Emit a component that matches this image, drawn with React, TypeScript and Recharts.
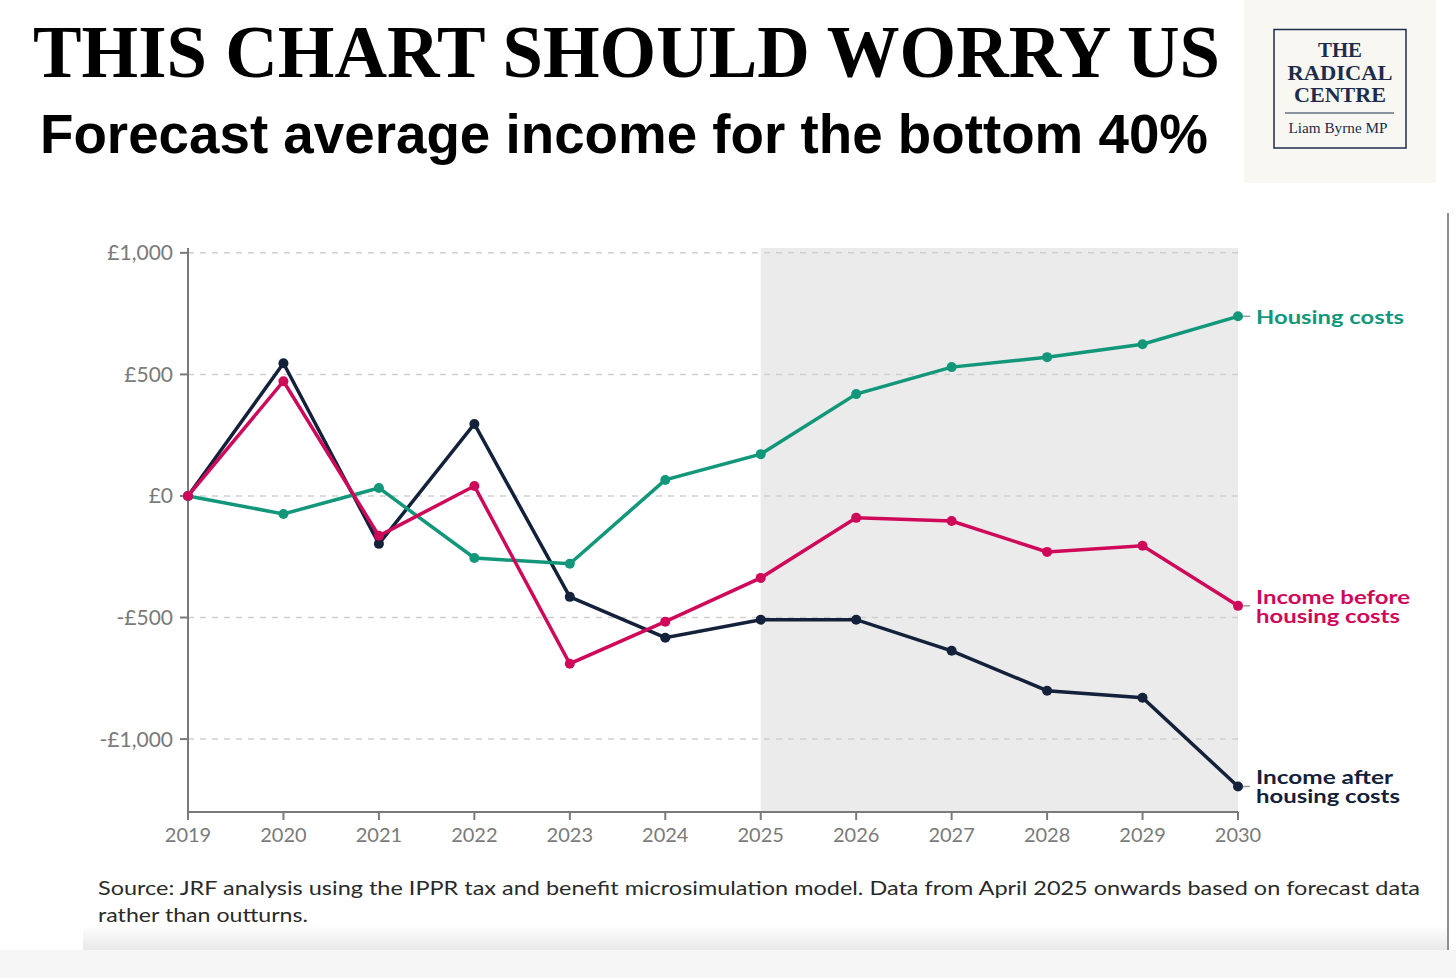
import React from 'react';
import {
  LineChart,
  Line,
  XAxis,
  YAxis,
  ReferenceArea,
  ReferenceLine,
} from 'recharts';

const years = [2019, 2020, 2021, 2022, 2023, 2024, 2025, 2026, 2027, 2028, 2029, 2030];
const housingCosts = [0, -74, 33, -255, -279, 66, 172, 419, 530, 571, 624, 739];
const incomeBefore = [0, 472, -164, 41, -690, -517, -337, -90, -103, -230, -205, -452];
const incomeAfter = [0, 546, -197, 296, -415, -583, -509, -509, -637, -801, -830, -1195];
const yTicks = [-1000, -500, 0, 500, 1000];
const forecastStart = 2025;
const forecastEnd = 2030;

const GREEN = '#12977a';
const PINK = '#d0085a';
const NAVY = '#14213a';
const AXIS = '#7a7a7a';
const FONT = 'Lato, "Noto Sans", sans-serif';

const chartData = years.map((year, i) => ({
  year,
  housing: housingCosts[i],
  before: incomeBefore[i],
  after: incomeAfter[i],
}));

const fmtMoney = (v: number) => {
  const s = '£' + Math.abs(v).toLocaleString('en-GB');
  return v < 0 ? '-' + s : s;
};

// label drawn only at the last point of a series; widths stretch the text like the original font
function endLabel(lines: string[], widths: number[], color: string) {
  return (props: any) => {
    const { x, y, index } = props;
    if (index !== years.length - 1) return <g />;
    const lh = 19;
    const top = y - ((lines.length - 1) * lh) / 2;
    return (
      <g>
        <line x1={x + 5} x2={x + 12} y1={y} y2={y} stroke="#9a9a9a" strokeWidth={1.5} />
        {lines.map((l, i) => (
          <text
            key={i}
            x={x + 18}
            y={top + i * lh}
            fill={color}
            fontSize={19.5}
            fontWeight={700}
            fontFamily={FONT}
            dominantBaseline="central"
            textLength={widths[i]}
            lengthAdjust="spacingAndGlyphs"
          >
            {l}
          </text>
        ))}
      </g>
    );
  };
}

export default function App() {
  return (
    <div style={{ position: 'absolute', left: 0, top: 0, width: 1456, height: 978, background: '#fff', overflow: 'hidden' }}>
      <svg width={1456} height={978} style={{ position: 'absolute', left: 0, top: 0 }}>
        <defs>
          <linearGradient id="fade" x1="0" y1="0" x2="0" y2="1">
            <stop offset="0" stopColor="#ffffff" />
            <stop offset="1" stopColor="#e9e9e9" />
          </linearGradient>
        </defs>
        <text x={33} y={77} fontSize={74} fontWeight={700} fontFamily='"Liberation Serif", serif' fill="#000" textLength={1187} lengthAdjust="spacingAndGlyphs">
          THIS CHART SHOULD WORRY US
        </text>
        <text x={40} y={153} fontSize={55} fontWeight={700} fontFamily='"Liberation Sans", Arial, sans-serif' fill="#000" textLength={1168} lengthAdjust="spacingAndGlyphs">
          Forecast average income for the bottom 40%
        </text>

        {/* logo */}
        <rect x={1244} y={0} width={192} height={183} fill="#f8f7f2" />
        <rect x={1274} y={29.5} width={132} height={118.5} fill="none" stroke="#1d2c4c" strokeWidth={1.5} />
        <g fill="#1d2c4c" fontFamily='"Liberation Serif", serif' textAnchor="middle">
          <text x={1340} y={57} fontSize={21.5} fontWeight={700} textLength={44} lengthAdjust="spacingAndGlyphs">THE</text>
          <text x={1340} y={80} fontSize={21.5} fontWeight={700} textLength={105} lengthAdjust="spacingAndGlyphs">RADICAL</text>
          <text x={1340} y={102} fontSize={21.5} fontWeight={700} textLength={92} lengthAdjust="spacingAndGlyphs">CENTRE</text>
          <text x={1338} y={133} fontSize={15} textLength={99} lengthAdjust="spacingAndGlyphs">Liam Byrne MP</text>
        </g>
        <line x1={1285} x2={1394} y1={113} y2={113} stroke="#1d2c4c" strokeWidth={1.2} />

        {/* frame bits */}
        <line x1={1448} x2={1448} y1={213} y2={950} stroke="#8e8e8e" strokeWidth={2} />
        <rect x={83} y={925} width={1364} height={25} fill="url(#fade)" />
        <rect x={0} y={950} width={1456} height={28} fill="#f6f6f6" />

        {/* source */}
        <g fill="#2a2a2a" fontFamily={FONT} fontSize={19}>
          <text x={98} y={895} textLength={1322} lengthAdjust="spacingAndGlyphs">
            Source: JRF analysis using the IPPR tax and benefit microsimulation model. Data from April 2025 onwards based on forecast data
          </text>
          <text x={98} y={922} textLength={210} lengthAdjust="spacingAndGlyphs">
            rather than outturns.
          </text>
        </g>
      </svg>

      <div style={{ position: 'absolute', left: 0, top: 200 }}>
        <LineChart width={1456} height={660} data={chartData} margin={{ top: 48, right: 218, bottom: 0, left: 0 }}>
          <ReferenceArea x1={forecastStart} x2={forecastEnd} y1={-1300} y2={1020} fill="#ebebeb" fillOpacity={1} stroke="none" ifOverflow="visible" />
          {yTicks.map((t) => (
            <ReferenceLine key={t} y={t} stroke="#cfcfcf" strokeWidth={1.5} strokeDasharray="6 6" />
          ))}
          <XAxis
            dataKey="year"
            type="number"
            domain={[2019, 2030]}
            ticks={years}
            height={48}
            tickSize={8}
            tickMargin={8}
            axisLine={{ stroke: AXIS, strokeWidth: 2 }}
            tickLine={{ stroke: AXIS, strokeWidth: 2 }}
            tick={{ fill: AXIS, fontSize: 20, fontFamily: FONT }}
            interval={0}
          />
          <YAxis
            type="number"
            domain={[-1300, 1020]}
            ticks={yTicks}
            width={188}
            tickSize={8}
            tickMargin={7}
            tickFormatter={fmtMoney}
            axisLine={{ stroke: AXIS, strokeWidth: 2 }}
            tickLine={{ stroke: AXIS, strokeWidth: 2 }}
            tick={{ fill: AXIS, fontSize: 21, fontFamily: FONT }}
            interval={0}
          />
          <Line
            type="linear"
            dataKey="after"
            stroke={NAVY}
            strokeWidth={3.5}
            dot={{ r: 5, fill: NAVY, stroke: 'none' }}
            isAnimationActive={false}
            label={endLabel(['Income after', 'housing costs'], [137, 144], NAVY)}
          />
          <Line
            type="linear"
            dataKey="housing"
            stroke={GREEN}
            strokeWidth={3.5}
            dot={{ r: 5, fill: GREEN, stroke: 'none' }}
            isAnimationActive={false}
            label={endLabel(['Housing costs'], [148], GREEN)}
          />
          <Line
            type="linear"
            dataKey="before"
            stroke={PINK}
            strokeWidth={3.5}
            dot={{ r: 5, fill: PINK, stroke: 'none' }}
            isAnimationActive={false}
            label={endLabel(['Income before', 'housing costs'], [154, 144], PINK)}
          />
        </LineChart>
      </div>
    </div>
  );
}
